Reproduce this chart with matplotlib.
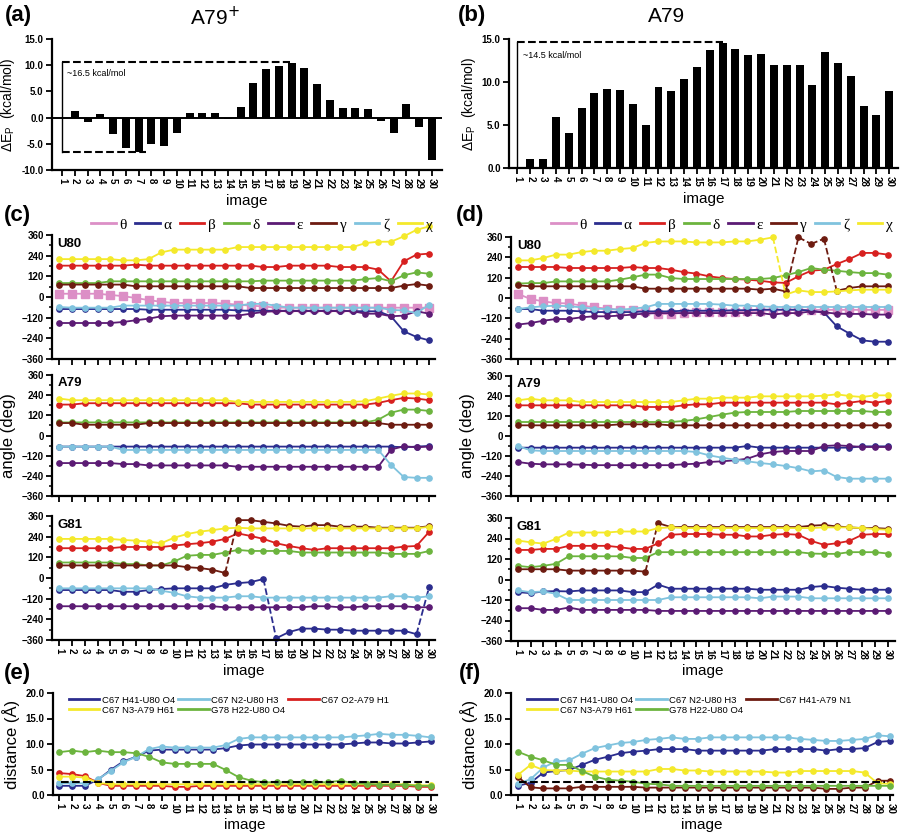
import numpy as np
import matplotlib
matplotlib.use("Agg")
import matplotlib.pyplot as plt
from matplotlib.lines import Line2D
from matplotlib.ticker import AutoMinorLocator

plt.rcParams['font.family'] = ['Liberation Sans', 'DejaVu Sans']

W, H = 903, 834
images = list(range(1, 31))

# energy profiles (kcal/mol)
dE_a79p = [0.0, 1.2, -0.9, 0.7, -3.1, -5.8, -6.6, -5.1, -5.5, -3.0,
           0.8, 0.9, 0.9, -0.2, 2.1, 6.6, 9.2, 9.9, 10.5, 9.4,
           6.4, 3.4, 1.8, 1.9, 1.7, -0.6, -2.9, 2.6, -1.8, -8.1]
dE_a79 = [0.0, 1.0, 1.05, 5.9, 4.1, 7.0, 8.7, 9.2, 9.1, 7.4,
          5.0, 9.4, 8.95, 10.35, 11.7, 13.75, 14.5, 13.8, 13.1, 13.3,
          12.0, 12.0, 12.0, 9.7, 13.5, 12.2, 10.7, 7.2, 6.2, 9.0]

# (c) A79+ dihedrals (deg)
c_u80_theta = [19, 19, 19, 19, 12, 5, -6, -18, -28, -35, -35, -35, -35, -38, -45,
               -50, -55, -62, -62, -62, -62, -62, -62, -62, -62, -62, -62, -62, -62, -62]
c_u80_alpha = [-70, -70, -70, -70, -70, -70, -70, -74, -74, -74, -74, -74, -74, -74, -78,
               -80, -80, -80, -80, -80, -80, -80, -80, -82, -83, -83, -112, -199, -232, -252]
c_u80_beta = [182, 182, 182, 182, 182, 182, 188, 182, 182, 182, 182, 182, 182, 182, 182,
              182, 174, 174, 182, 182, 182, 182, 174, 174, 174, 159, 91, 207, 246, 252]
c_u80_delta = [81, 81, 81, 81, 91, 91, 91, 91, 91, 91, 91, 91, 91, 91, 91,
               91, 95, 95, 95, 95, 95, 95, 95, 95, 104, 110, 91, 126, 143, 135]
c_u80_eps = [-151, -151, -151, -151, -151, -145, -135, -126, -112, -108, -108, -108, -108, -108, -108,
             -97, -87, -82, -82, -82, -82, -82, -82, -82, -97, -97, -112, -108, -83, -97]
c_u80_gamma = [72, 72, 72, 72, 72, 72, 62, 62, 62, 62, 62, 62, 62, 62, 62,
               52, 52, 52, 52, 52, 52, 52, 52, 52, 52, 52, 52, 66, 75, 66]
c_u80_zeta = [-58, -62, -62, -62, -62, -50, -50, -50, -50, -50, -50, -50, -50, -50, -50,
              -40, -40, -50, -62, -62, -62, -62, -62, -62, -62, -62, -75, -78, -93, -45]
c_u80_chi = [220, 220, 220, 220, 220, 213, 213, 220, 259, 275, 275, 275, 275, 275, 290,
             290, 290, 290, 290, 290, 290, 290, 290, 290, 313, 321, 321, 352, 390, 410]

c_a79_alpha = [-66] * 27 + [-70, -66, -62]
c_a79_beta = [184, 184] + [192] * 13 + [184] * 10 + [194, 210, 224, 220, 210]
c_a79_delta = [78] * 25 + [94, 136, 154, 154, 146]
c_a79_eps = [-164] * 5 + [-170] * 2 + [-178] * 7 + [-186] * 12 + [-84, -64, -70, -66]
c_a79_gamma = [74, 74] + [64] * 5 + [74] * 19 + [64] * 4
c_a79_zeta = [-66] * 5 + [-86] * 21 + [-175, -247, -252, -252]
c_a79_chi = [220] + [210] * 13 + [200] * 10 + [204, 220, 236, 250, 250, 244]

c_g81_alpha = [-70, -70, -70, -70, -70, -80, -80, -70, -64, -60, -60, -60, -60, -40, -30,
               -24, -6, -350, -314, -294, -294, -300, -300, -306, -306, -306, -306, -306, -326, -50]
c_g81_beta = [173, 173, 173, 173, 173, 180, 180, 180, 180, 188, 196, 202, 211, 227, 259,
              244, 227, 202, 186, 173, 163, 173, 173, 173, 173, 173, 173, 182, 186, 269]
c_g81_delta = [90, 90, 90, 90, 90, 81, 81, 73, 73, 96, 129, 134, 134, 148, 163,
               157, 157, 157, 157, 148, 148, 148, 148, 148, 148, 148, 140, 140, 140, 157]
c_g81_eps = [-164] * 13 + [-170] * 5 + [-168, -170, -164, -164, -170, -170,
                                       -164, -164, -164, -164, -170, -170]
c_g81_gamma = [73, 73, 73, 73, 73, 73, 73, 73, 73, 73, 63, 58, 48, 29, 336,
               336, 326, 317, 303, 298, 307, 307, 298, 298, 298, 292, 292, 292, 292, 301]
c_g81_zeta = [-60] * 8 + [-74, -86, -106, -114, -114, -114, -106, -106] + [-114] * 10 + \
             [-106, -106, -114, -106]
c_g81_chi = [227, 227, 227, 227, 227, 221, 217, 211, 202, 234, 255, 269, 278, 288, 292,
             288, 288, 288, 288, 288, 288, 288, 288, 288, 288, 288, 288, 288, 288, 298]

# (d) A79 dihedrals (deg)
d_u80_theta = [25, -6, -20, -30, -32, -45, -55, -63, -69, -72, -75, -94, -94, -88, -82,
               -80, -80, -80, -78, -75, -72, -72, -70, -70, -70, -70, -70, -70, -70, -70]
d_u80_alpha = [-65, -65, -75, -75, -75, -79, -83, -83, -83, -83, -79, -79, -79, -75, -75,
               -75, -75, -72, -72, -69, -69, -69, -69, -75, -85, -167, -210, -250, -258, -258]
d_u80_beta = [183, 183, 183, 183, 177, 177, 177, 177, 177, 183, 177, 177, 167, 153, 144,
              128, 118, 112, 108, 102, 92, 89, 128, 161, 167, 200, 230, 266, 266, 256]
d_u80_delta = [85, 88, 88, 98, 98, 98, 98, 98, 108, 122, 138, 138, 118, 112, 112,
               112, 112, 112, 112, 112, 118, 134, 153, 177, 167, 161, 153, 147, 147, 138]
d_u80_eps = [-157, -148, -134, -124, -124, -114, -108, -108, -104, -98, -92, -89, -89, -89, -89,
             -89, -89, -89, -89, -89, -98, -89, -89, -79, -85, -92, -94, -94, -98, -98]
d_u80_gamma = [75, 69, 69, 69, 69, 69, 69, 69, 69, 69, 55, 55, 55, 55, 55,
               55, 55, 55, 55, 49, 55, 39, 358, 319, 350, 43, 59, 69, 69, 69]
d_u80_zeta = [-65, -55, -49, -45, -49, -55, -63, -65, -69, -63, -55, -35, -35, -35, -35,
              -35, -39, -45, -45, -49, -53, -53, -53, -53, -53, -53, -53, -53, -53, -53]
d_u80_chi = [222, 222, 236, 256, 256, 271, 279, 279, 289, 295, 325, 334, 334, 334, 328,
             328, 328, 334, 334, 344, 358, 20, 45, 35, 35, 39, 45, 49, 49, 49]

d_a79_alpha = [-70] * 18 + [-60] + [-70] * 8 + [-62, -62, -62]
d_a79_beta = [184] * 10 + [174] * 3 + [184, 190, 190] + [200] * 9 + [190, 200, 210, 200, 210]
d_a79_delta = [84] * 13 + [90, 100, 114, 128, 140, 144, 144, 144, 144,
                           150, 150, 150, 150, 150, 150, 144, 144]
d_a79_eps = [-156, -166, -170, -170, -170, -172, -175, -175, -175, -175, -175, -175, -175, -170, -166,
             -156, -152, -146, -136, -110, -96, -90, -90, -90, -60, -56, -60, -66, -66, -66]
d_a79_gamma = [64] * 8 + [70] * 4 + [64] * 18
d_a79_zeta = [-60, -86] + [-90] * 12 + [-96, -116, -130, -142, -152, -162, -170, -180,
                                        -193, -212, -207, -246, -256, -256, -256, -256]
d_a79_chi = [214, 224, 214, 214, 214, 204, 204, 204, 204, 204, 204, 204, 204, 214, 224,
             224, 230, 230, 230, 238, 238, 238, 238, 238, 242, 250, 240, 234, 244, 244]

d_g81_alpha = [-74, -80, -70, -68, -70, -64, -64, -64, -64, -74, -74, -30, -54, -54, -54,
               -54, -54, -54, -54, -60, -60, -60, -60, -44, -38, -48, -54, -60, -60, -60]
d_g81_beta = [173, 173, 179, 179, 197, 197, 197, 197, 189, 179, 179, 212, 262, 266, 266,
              266, 262, 262, 252, 252, 262, 266, 262, 226, 203, 212, 226, 262, 266, 266]
d_g81_delta = [80, 72, 80, 92, 136, 136, 136, 136, 136, 126, 126, 160, 160, 160, 160,
               160, 160, 160, 160, 160, 160, 160, 160, 152, 150, 150, 160, 160, 160, 152]
d_g81_eps = [-168, -168, -178, -178, -164, -178, -178, -178, -178, -178, -178] + [-184] * 19
d_g81_gamma = [60, 60, 60, 60, 52, 52, 52, 52, 52, 52, 46, 330, 307, 307, 307,
               307, 307, 307, 307, 307, 307, 307, 307, 315, 319, 311, 305, 301, 301, 297]
d_g81_zeta = [-64, -74, -70, -84, -120, -120, -120, -120, -120, -120, -120, -120, -104, -104, -104,
              -104, -104, -104, -104, -110, -100, -100, -100, -110, -110, -110, -110, -110, -110, -110]
d_g81_chi = [228, 218, 210, 238, 275, 275, 275, 275, 281, 281, 281, 301, 305, 301, 301,
             301, 301, 301, 301, 301, 301, 301, 301, 301, 305, 305, 305, 301, 295, 291]

# (e) A79+ distances (A)
e_h41_o4 = [1.8, 1.8, 1.8, 3.0, 4.9, 6.6, 7.5, 8.7, 8.9, 8.9, 8.9, 8.9, 8.9, 9.2, 9.7,
            9.9, 9.9, 9.9, 9.9, 9.9, 9.9, 9.9, 9.9, 10.1, 10.3, 10.3, 10.1, 10.1, 10.3, 10.5]
e_n2_h3 = [2.3, 2.3, 2.3, 3.1, 4.7, 6.4, 7.5, 9.0, 9.5, 9.3, 9.3, 9.3, 9.3, 9.8, 11.0,
           11.3, 11.3, 11.3, 11.3, 11.3, 11.3, 11.3, 11.3, 11.5, 11.7, 12.0, 11.8, 11.8, 11.6, 11.3]
e_o2_h1 = [4.3, 4.1, 3.7, 2.4, 1.8, 1.8, 1.8, 1.8, 1.8, 1.6, 1.6] + [1.8] * 17 + [1.6, 1.6]
e_n3_h61 = [3.6, 3.6, 3.4, 2.4] + [2.1] * 24 + [1.9, 1.9]
e_h22_o4 = [8.4, 8.7, 8.4, 8.7, 8.4, 8.4, 8.2, 7.5, 6.4, 6.1, 6.1, 6.1, 6.1, 4.9, 3.5,
            2.8, 2.5, 2.5, 2.5, 2.5, 2.5, 2.5, 2.8, 2.3, 2.2, 2.0, 2.0, 2.0, 1.8, 1.8]

# (f) A79 distances (A)
f_h41_o4 = [1.8, 2.4, 4.4, 4.7, 4.9, 5.9, 6.9, 7.5, 8.2, 8.5, 8.7, 9.0, 9.0, 9.0, 8.7,
            8.7, 8.7, 8.7, 8.7, 8.7, 9.0, 9.0, 9.0, 9.0, 8.7, 9.0, 9.0, 9.2, 10.4, 10.6]
f_n2_h3 = [2.2, 3.1, 5.4, 6.6, 6.8, 8.1, 9.2, 9.7, 10.2, 10.4, 10.8, 11.0, 11.3, 11.0, 11.0,
           11.3, 11.3, 11.3, 11.3, 11.3, 11.3, 11.3, 11.0, 10.8, 10.6, 10.6, 10.8, 11.0, 11.7, 11.5]
f_h41_n1 = [3.6, 1.5, 1.3, 1.3, 1.3, 1.6, 1.6, 1.6, 1.6, 1.6] + [1.45] * 14 + \
           [1.2, 1.2, 1.45, 1.45, 2.8, 2.8]
f_n3_h61 = [3.9, 5.9, 4.9, 4.8, 4.8, 4.6, 4.6, 4.6, 4.6, 4.6, 4.6, 5.1, 5.1, 4.8, 4.8,
            4.6, 4.6, 4.6, 4.6, 4.6, 4.4, 4.4, 4.7, 4.7, 4.7, 4.7, 4.7, 4.4, 2.3, 2.2]
f_h22_o4 = [8.5, 7.5, 6.8, 5.9, 5.9, 4.7, 3.6, 3.0, 2.8, 2.6, 2.2, 2.1] + [1.8] * 18

hbond_cut = 2.5

keys = ['theta', 'alpha', 'beta', 'delta', 'eps', 'gamma', 'zeta', 'chi']
greek = ['θ', 'α', 'β', 'δ', 'ε', 'γ', 'ζ', 'χ']
colors = {'theta': '#dc8fc6', 'alpha': '#2b2d8e', 'beta': '#d7201f', 'delta': '#6cb43e',
          'eps': '#5b1b74', 'gamma': '#6d1b10', 'zeta': '#80c3de', 'chi': '#f4e92b'}
e_colors = ['#2b2d8e', '#80c3de', '#d7201f', '#f4e92b', '#6cb43e']
f_colors = ['#2b2d8e', '#80c3de', '#6d1b10', '#f4e92b', '#6cb43e']

fig = plt.figure(figsize=(W / 100, H / 100), dpi=100)


def px_axes(x0, y0, x1, y1):
    return fig.add_axes([x0 / W, 1 - y1 / H, (x1 - x0) / W, (y1 - y0) / H])


def style(ax, xlabels=True):
    for s in ['top', 'right']:
        ax.spines[s].set_visible(False)
    for s in ['left', 'bottom']:
        ax.spines[s].set_linewidth(1.6)
    ax.tick_params(direction='out', length=4, width=1.3, labelsize=7, pad=2)
    ax.tick_params(which='minor', direction='out', length=2.5, width=1.1)
    ax.set_xticks(images)
    if xlabels:
        ax.set_xticklabels([str(i) for i in images], rotation=-90, fontweight='bold')
    else:
        ax.set_xticklabels([])
    for t in ax.get_yticklabels():
        t.set_fontweight('bold')


def draw_series(ax, y, color, dashed=(), marker='o', ms=3.8):
    x = np.array(images)
    y = np.asarray(y, float)
    start = 0
    for i in sorted(dashed):
        ax.plot(x[start:i], y[start:i], '-', color=color, lw=1.3, clip_on=False)
        ax.plot(x[i - 1:i + 1], y[i - 1:i + 1], '--', color=color, lw=1.3, clip_on=False)
        start = i
    ax.plot(x[start:], y[start:], '-', color=color, lw=1.3, clip_on=False)
    ax.plot(x, y, ls='none', marker=marker, ms=ms, color=color, mec=color, clip_on=False)


def bar_panel(rect, vals, ylim, box_bottom, box_end_top, box_end_bottom, note, note_drop):
    ax = px_axes(*rect)
    ax.bar(images, vals, width=0.62, color='black')
    ax.axhline(0, color='black', lw=1.4)
    ax.set_ylim(*ylim)
    ax.set_yticks(np.arange(ylim[0], ylim[1] + 0.1, 5))
    ax.set_yticklabels(['%.1f' % v for v in np.arange(ylim[0], ylim[1] + 0.1, 5)])
    top = max(vals)
    ax.plot([1, 1], [box_bottom, top + 0.1], color='black', lw=1.0)
    ax.plot([1, box_end_top], [top + 0.1, top + 0.1], '--', color='black', lw=1.5)
    if box_bottom < 0:
        ax.plot([1, box_end_bottom], [box_bottom, box_bottom], '--', color='black', lw=1.5)
    ax.text(1.4, top - note_drop, note, fontsize=6.5, va='center')
    ax.set_ylabel(r'ΔE$_\mathregular{P}$  (kcal/mol)', fontsize=10, labelpad=3)
    ax.set_xlabel('image', fontsize=11, labelpad=3)
    return ax


ax_a = bar_panel((52, 39, 442, 170), dE_a79p, (-10, 15), min(dE_a79p[:20]), 18.9, 7.6,
                 '~16.5 kcal/mol', 2.0)
ax_a.set_xlim(0.2, 30.8)
style(ax_a)
ax_b = bar_panel((509, 39, 898, 168), dE_a79, (0, 15), 0, 17, 1, '~14.5 kcal/mol', 1.4)
ax_b.set_xlim(0.34, 30.68)
style(ax_b)

fig.text(215 / W, 1 - 17 / H, 'A79$^{+}$', fontsize=15, ha='center', va='center')
fig.text(667 / W, 1 - 17 / H, 'A79', fontsize=15, ha='center', va='center')


def angle_panel(rect, data, name, xl, xlabels, dashed=None):
    dashed = dashed or {}
    ax = px_axes(*rect)
    for k in keys:
        if k in data:
            if k == 'theta':
                draw_series(ax, data[k], colors[k], marker='s', ms=5.5)
            else:
                draw_series(ax, data[k], colors[k], dashed=dashed.get(k, ()))
    ax.set_ylim(-360, 360)
    ax.set_xlim(*xl)
    ax.set_yticks([-360, -240, -120, 0, 120, 240, 360])
    ax.yaxis.set_minor_locator(AutoMinorLocator(2))
    style(ax, xlabels)
    ax.text(0.015, 0.93, name, transform=ax.transAxes, fontsize=9.5, fontweight='bold',
            va='center')
    if xlabels:
        ax.set_xlabel('image', fontsize=11, labelpad=3)
    return ax


c_u80 = dict(theta=c_u80_theta, alpha=c_u80_alpha, beta=c_u80_beta, delta=c_u80_delta,
             eps=c_u80_eps, gamma=c_u80_gamma, zeta=c_u80_zeta, chi=c_u80_chi)
c_a79 = dict(alpha=c_a79_alpha, beta=c_a79_beta, delta=c_a79_delta, eps=c_a79_eps,
             gamma=c_a79_gamma, zeta=c_a79_zeta, chi=c_a79_chi)
c_g81 = dict(alpha=c_g81_alpha, beta=c_g81_beta, delta=c_g81_delta, eps=c_g81_eps,
             gamma=c_g81_gamma, zeta=c_g81_zeta, chi=c_g81_chi)
d_u80 = dict(theta=d_u80_theta, alpha=d_u80_alpha, beta=d_u80_beta, delta=d_u80_delta,
             eps=d_u80_eps, gamma=d_u80_gamma, zeta=d_u80_zeta, chi=d_u80_chi)
d_a79 = dict(alpha=d_a79_alpha, beta=d_a79_beta, delta=d_a79_delta, eps=d_a79_eps,
             gamma=d_a79_gamma, zeta=d_a79_zeta, chi=d_a79_chi)
d_g81 = dict(alpha=d_g81_alpha, beta=d_g81_beta, delta=d_g81_delta, eps=d_g81_eps,
             gamma=d_g81_gamma, zeta=d_g81_zeta, chi=d_g81_chi)

xl_c = (0.43, 30.45)
xl_d = (0.47, 30.57)
angle_panel((52, 235, 435, 359), c_u80, 'U80', xl_c, False)
ax_ca = angle_panel((52, 375, 435, 496), c_a79, 'A79', xl_c, False)
angle_panel((52, 516, 435, 640), c_g81, 'G81', xl_c, True,
            dashed={'gamma': [14], 'alpha': [17, 29]})
angle_panel((511, 237, 895, 359), d_u80, 'U80', xl_d, False,
            dashed={'chi': [21], 'gamma': [22, 23, 24, 25]})
ax_da = angle_panel((511, 376, 895, 496), d_a79, 'A79', xl_d, False)
angle_panel((511, 518, 895, 641), d_g81, 'G81', xl_d, True, dashed={'gamma': [11]})

ax_ca.set_ylabel('angle (deg)', fontsize=12, labelpad=4)
ax_da.set_ylabel('angle (deg)', fontsize=12, labelpad=4)

handles = [Line2D([], [], color=colors[k], lw=2) for k in keys]
for cx in (262, 722):
    fig.legend(handles, greek, loc='center', bbox_to_anchor=(cx / W, 1 - 225 / H), ncol=8,
               frameon=False, prop={'family': 'Liberation Serif', 'size': 11},
               handlelength=1.6, handletextpad=0.25, columnspacing=0.55, borderpad=0)


def dist_panel(rect, series, labels, cols, xl):
    ax = px_axes(*rect)
    for y, c in zip(series, cols):
        draw_series(ax, y, c)
    ax.axhline(hbond_cut, xmin=0.02, xmax=0.98, color='black', ls='--', lw=1.5, zorder=5)
    ax.set_ylim(0, 20)
    ax.set_xlim(*xl)
    ax.set_yticks([0, 5, 10, 15, 20])
    ax.set_yticklabels(['0.0', '5.0', '10.0', '15.0', '20.0'])
    style(ax)
    hs = [Line2D([], [], color=c, lw=2) for c in cols]
    order = [0, 3, 1, 4, 2]
    ax.legend([hs[i] for i in order], [labels[i] for i in order], ncol=3, frameon=False,
              loc='upper left', bbox_to_anchor=(0.03, 1.02), fontsize=6.8, handlelength=3.2,
              handletextpad=0.25, columnspacing=0.35, labelspacing=0.1, borderpad=0)
    ax.set_ylabel('distance (Å)', fontsize=12, labelpad=4)
    ax.set_xlabel('image', fontsize=11, labelpad=3)
    return ax


dist_panel((53, 693, 437, 795), [e_h41_o4, e_n2_h3, e_o2_h1, e_n3_h61, e_h22_o4],
           ['C67 H41-U80 O4', 'C67 N2-U80 H3', 'C67 O2-A79 H1', 'C67 N3-A79 H61',
            'G78 H22-U80 O4'], e_colors, (0.5, 30.5))
dist_panel((511, 693, 893, 795), [f_h41_o4, f_n2_h3, f_h41_n1, f_n3_h61, f_h22_o4],
           ['C67 H41-U80 O4', 'C67 N2-U80 H3', 'C67 H41-A79 N1', 'C67 N3-A79 H61',
            'G78 H22-U80 O4'], f_colors, (0.48, 30.2))

for lab, x, y in [('(a)', 18, 15), ('(b)', 472, 15), ('(c)', 17, 216), ('(d)', 470, 216),
                  ('(e)', 17, 673), ('(f)', 470, 673)]:
    fig.text(x / W, 1 - y / H, lab, fontsize=16, fontweight='bold', ha='center', va='center')

fig.savefig('out.png', dpi=100)
